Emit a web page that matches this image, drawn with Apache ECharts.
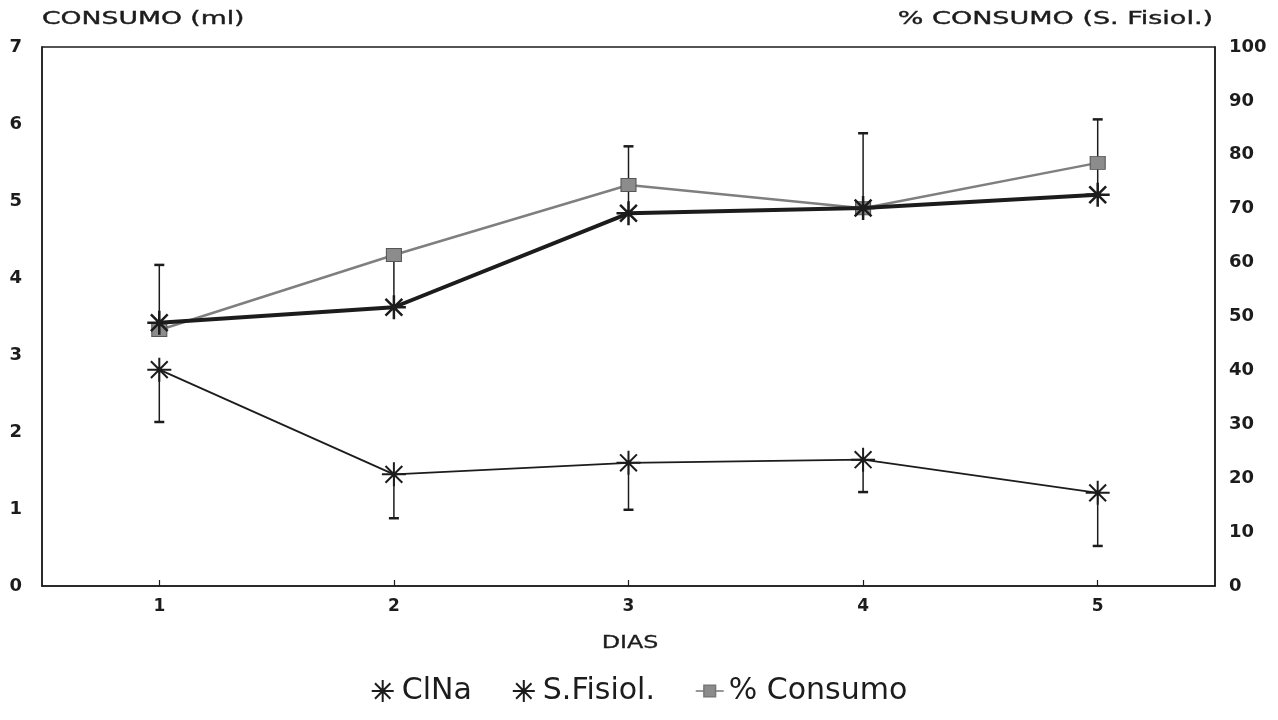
<!DOCTYPE html>
<html>
<head>
<meta charset="utf-8">
<script src="https://cdn.jsdelivr.net/npm/echarts@6/dist/echarts.min.js"></script>
<style>
  html, body { margin: 0; padding: 0; background: #fff; }
  #chart { width: 1278px; height: 720px; }
</style>
</head>
<body>
<div id="chart"></div>
<script>
// Days of the trial
const dias = ['1', '2', '3', '4', '5'];

// ClNa consumption (ml) and upper end of its error bar
const clna = [3.42, 3.62, 4.84, 4.91, 5.08];
const clnaUpper = [4.17, 4.30, 5.71, 5.88, 6.06];

// Physiological saline consumption (ml) and lower end of its error bar
const sFisiol = [2.81, 1.45, 1.60, 1.64, 1.21];
const sFisiolLower = [2.13, 0.88, 0.99, 1.22, 0.52];

// Saline consumption as a percentage (right axis)
const pctConsumo = [47.5, 61.4, 74.4, 70.1, 78.5];

// Axis ticks
const leftTicks = { min: 0, max: 7, interval: 1 };
const rightTicks = { min: 0, max: 100, interval: 10 };

const INK = '#1c1c1c';
const FONT = 'DejaVu Sans';

// Asterisk drawn as stroked segments
const asterisk = 'path://M0,10L20,10M10,0L10,20M3,3L17,17M3,17L17,3';
// Line with a small square in the middle, for the percentage legend entry
const lineSquare = 'path://M0,6L7,6M7,1L17,1L17,11L7,11ZM17,6L24,6';

function errorBars(values, bounds, width) {
  return {
    type: 'custom',
    yAxisIndex: 0,
    silent: true,
    z: 1,
    data: values.map((v, i) => [i, v, bounds[i]]),
    renderItem(params, api) {
      const p0 = api.coord([api.value(0), api.value(1)]);
      const p1 = api.coord([api.value(0), api.value(2)]);
      const cap = 5;
      const style = { stroke: INK, lineWidth: width };
      return {
        type: 'group',
        children: [
          { type: 'line', shape: { x1: p0[0], y1: p0[1], x2: p1[0], y2: p1[1] }, style },
          { type: 'line', shape: { x1: p1[0] - cap, y1: p1[1], x2: p1[0] + cap, y2: p1[1] }, style: { stroke: INK, lineWidth: 2.5 } }
        ]
      };
    }
  };
}

const chart = echarts.init(document.getElementById('chart'));

chart.setOption({
  backgroundColor: '#fff',
  animation: false,
  grid: {
    left: 42, right: 63, top: 47, bottom: 134,
    show: true, borderColor: INK, borderWidth: 1.5, backgroundColor: 'transparent'
  },
  xAxis: {
    type: 'category',
    data: dias,
    boundaryGap: true,
    axisLine: { lineStyle: { color: INK, width: 1.5 } },
    axisTick: { show: true, alignWithLabel: true, inside: true, length: 6, lineStyle: { color: INK, width: 1.2 } },
    axisLabel: { fontFamily: FONT, fontWeight: 'bold', fontSize: 17, color: INK, margin: 12 },
    splitLine: { show: false }
  },
  yAxis: [
    {
      type: 'value',
      min: leftTicks.min, max: leftTicks.max, interval: leftTicks.interval,
      axisLine: { show: true, lineStyle: { color: INK, width: 1.5 } },
      axisTick: { show: false },
      axisLabel: { fontFamily: FONT, fontWeight: 'bold', fontSize: 18, color: INK, margin: 20 },
      splitLine: { show: false }
    },
    {
      type: 'value',
      position: 'right',
      min: rightTicks.min, max: rightTicks.max, interval: rightTicks.interval,
      axisLine: { show: true, lineStyle: { color: INK, width: 1.5 } },
      axisTick: { show: false },
      axisLabel: { fontFamily: FONT, fontWeight: 'bold', fontSize: 18, color: INK, margin: 14 },
      splitLine: { show: false }
    }
  ],
  legend: {
    bottom: 9,
    left: 'center',
    itemGap: 40,
    itemWidth: 28,
    itemHeight: 22,
    textStyle: { fontFamily: FONT, fontSize: 30, color: INK },
    data: [
      { name: 'ClNa', icon: asterisk },
      { name: 'S.Fisiol.', icon: asterisk },
      { name: '% Consumo', icon: lineSquare, itemStyle: { color: '#8c8c8c', borderColor: '#777', borderWidth: 1.5 } }
    ]
  },
  graphic: [
    {
      type: 'text', x: 42, y: 10, scaleX: 1.48,
      style: { text: 'CONSUMO (ml)', font: '18px "DejaVu Sans"', fill: INK, stroke: INK, lineWidth: 0.4, textAlign: 'left' }
    },
    {
      type: 'text', x: 1213, y: 10, scaleX: 1.5,
      style: { text: '% CONSUMO (S. Fisiol.)', font: '18px "DejaVu Sans"', fill: INK, stroke: INK, lineWidth: 0.4, textAlign: 'right' }
    },
    {
      type: 'text', x: 630, y: 635, scaleX: 1.4,
      style: { text: 'DIAS', font: '17px "DejaVu Sans"', fill: INK, stroke: INK, lineWidth: 0.3, textAlign: 'center' }
    }
  ],
  series: [
    errorBars(clna, clnaUpper, 1.5),
    errorBars(sFisiol, sFisiolLower, 1.5),
    {
      name: '% Consumo',
      type: 'line',
      yAxisIndex: 1,
      data: pctConsumo,
      symbol: 'rect',
      symbolSize: [15, 13],
      showSymbol: true,
      z: 3,
      lineStyle: { color: '#7f7f7f', width: 2.5 },
      itemStyle: { color: '#8c8c8c', borderColor: '#555', borderWidth: 1 }
    },
    {
      name: 'ClNa',
      type: 'line',
      yAxisIndex: 0,
      data: clna,
      symbol: asterisk,
      symbolSize: 24,
      z: 4,
      lineStyle: { color: INK, width: 4 },
      itemStyle: { color: INK, borderColor: INK, borderWidth: 2.5 }
    },
    {
      name: 'S.Fisiol.',
      type: 'line',
      yAxisIndex: 0,
      data: sFisiol,
      symbol: asterisk,
      symbolSize: 24,
      z: 4,
      lineStyle: { color: INK, width: 1.8 },
      itemStyle: { color: INK, borderColor: INK, borderWidth: 2 }
    }
  ]
});
</script>
</body>
</html>
